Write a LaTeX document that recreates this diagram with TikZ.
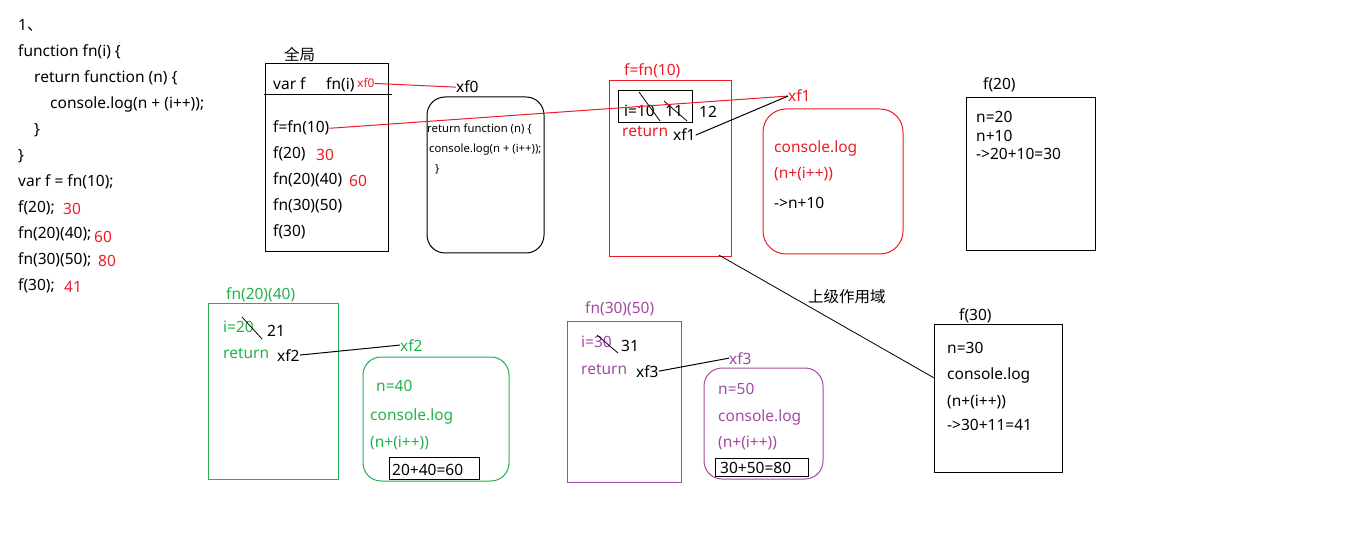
\documentclass[tikz,border=0pt]{standalone}
\usepackage{fontspec}
\usetikzlibrary{calc}
\setmainfont{Noto Sans}
\newfontfamily\cjkfont{Noto Sans CJK SC}
\definecolor{pred}{RGB}{237,28,36}
\definecolor{pgreen}{RGB}{34,177,76}
\definecolor{ppurple}{RGB}{163,73,164}
\newcommand{\mainsize}{\fontsize{15.5}{18}\selectfont}
\newcommand{\smallsize}{\fontsize{11.3}{13}\selectfont}
\newcommand{\tinysize}{\fontsize{12}{14}\selectfont}
\begin{document}
\begin{tikzpicture}[x=1pt,y=-1pt,
  txt/.style={anchor=base west,inner sep=0pt,font=\mainsize},
  stxt/.style={anchor=base west,inner sep=0pt,font=\smallsize},
  frame/.style={draw,line width=1pt,anchor=north west,inner sep=0pt,outer sep=0pt},
  rframe/.style={frame,rounded corners=18pt},
  wire/.style={line width=1pt},
  strike/.style={line width=0.8pt}]
\useasboundingbox (0,0) rectangle (1360,553);

% ---------- source code ----------
\node[txt] (c0) at (18,31) {1{\cjkfont 、}};
\node[txt] (c1) at (18,57) {function fn(i) \{};
\node[txt] (c2) at (34,83) {return function (n) \{};
\node[txt] (c3) at (50,109) {console.log(n + (i++));};
\node[txt] (c4) at (34,135) {\}};
\node[txt] (c5) at (18,161) {\}};
\node[txt] (c6) at (18,187) {var f = fn(10);};
\node[txt] (c7) at (18,213) {f(20);};
\node[txt,text=pred] (r7) at (63,215) {30};
\node[txt] (c8) at (18,239) {fn(20)(40);};
\node[txt,text=pred] (r8) at (94,243) {60};
\node[txt] (c9) at (18,265) {fn(30)(50);};
\node[txt,text=pred] (r9) at (98,267) {80};
\node[txt] (c10) at (18,291) {f(30);};
\node[txt,text=pred] (r10) at (64,293) {41};

% ---------- global scope ----------
\node[txt] (gtitle) at (284,61) {\cjkfont 全局};
\node[frame,minimum width=123pt,minimum height=188pt] (gbox) at (265,64) {};
\draw[wire] (264,95) -- (392,95);
\node[txt] (gvar) at (273,90) {var f};
\node[txt] (gfn) at (326,90) {fn(i)};
\node[anchor=base west,inner sep=0pt,font=\tinysize,text=pred] (gxf0) at (357,88) {xf0};
\node[txt] (gf) at (273,133) {f=fn(10)};
\node[txt] (gf20) at (273,159) {f(20)};
\node[txt,text=pred] (gr30) at (316,161) {30};
\node[txt] (gfn2040) at (273,185) {fn(20)(40)};
\node[txt,text=pred] (gr60) at (349,187) {60};
\node[txt] (gfn3050) at (273,211) {fn(30)(50)};
\node[txt] (gf30) at (273,237) {f(30)};

% ---------- function object xf0 ----------
\node[txt] (xf0) at (456,93) {xf0};
\node[rframe,minimum width=117pt,minimum height=156pt] (xf0box) at (427,97) {};
\node[stxt] (xf0a) at (427,133) {return function (n) \{};
\node[stxt] (xf0b) at (429,153) {console.log(n + (i++));};
\node[stxt] (xf0c) at (435,173) {\}};
\draw[wire,pred] (gxf0.east) -- (xf0.west);

% ---------- f=fn(10) ----------
\node[txt,text=pred] (ftitle) at (624,76) {f=fn(10)};
\node[frame,draw=pred,minimum width=122pt,minimum height=176pt] (fbox) at (609,81) {};
\node[frame,minimum width=74pt,minimum height=32pt] (ivar) at (618,91) {};
\node[txt] (i10) at (624,117) {i=10};
\node[txt] (i11) at (665,117) {11};
\node[txt] (i12) at (699,118) {12};
\draw[strike] (639,92) -- (660,121);
\draw[strike] (664,101) -- (687,121);
\node[txt,text=pred] (fret) at (622,137) {return};
\node[txt] (fxf1) at (673,141) {xf1};
\node[txt,text=pred] (xf1) at (788,102) {xf1};
\node[rframe,draw=pred,rounded corners=23pt,minimum width=140pt,minimum height=145pt] (xf1box) at (763,109) {};
\node[txt,text=pred] (xf1a) at (774,153) {console.log};
\node[txt,text=pred] (xf1b) at (774,179) {(n+(i++))};
\node[txt] (xf1c) at (774,209) {->n+10};
\draw[wire,pred] (gf.east) -- (xf1.west);
\draw[wire] (fxf1.east) -- (xf1.west);

% ---------- f(20) ----------
\node[txt] (f20title) at (983,90) {f(20)};
\node[frame,minimum width=129pt,minimum height=153pt] (f20box) at (966,98) {};
\node[txt] (f20a) at (976,123) {n=20};
\node[txt] (f20b) at (976,142) {n+10};
\node[txt] (f20c) at (976,160) {->20+10=30};

% ---------- f(30) ----------
\node[txt] (f30title) at (959,320) {f(30)};
\node[frame,minimum width=128pt,minimum height=147pt] (f30box) at (934,325) {};
\node[txt] (f30a) at (947,353) {n=30};
\node[txt] (f30b) at (947,379) {console.log};
\node[txt] (f30c) at (947,406) {(n+(i++))};
\node[txt] (f30d) at (947,430) {->30+11=41};
\node[txt] (upper) at (808,302) {\cjkfont 上级作用域};
\coordinate (scopeA) at ($(fbox.south west)!0.9!(fbox.south east)+(0,-2)$);
\coordinate (scopeB) at ($(f30box.north west)!0.36!(f30box.south west)$);
\draw[strike] (scopeA) -- (scopeB);

% ---------- fn(20)(40) ----------
\node[txt,text=pgreen] (gtitle2) at (226,300) {fn(20)(40)};
\node[frame,draw=pgreen,minimum width=130pt,minimum height=175pt] (g2box) at (208,304) {};
\node[txt,text=pgreen] (g2i) at (223,333) {i=20};
\draw[strike] (242,317) -- (262,339);
\node[txt] (g2i21) at (267,336) {21};
\node[txt,text=pgreen] (g2ret) at (223,358) {return};
\node[txt] (g2xf2) at (277,361) {xf2};
\node[txt,text=pgreen] (xf2) at (400,351) {xf2};
\node[rframe,draw=pgreen,minimum width=146pt,minimum height=124pt] (xf2box) at (363,357) {};
\node[txt,text=pgreen] (xf2a) at (376,391) {n=40};
\node[txt,text=pgreen] (xf2b) at (370,420) {console.log};
\node[txt,text=pgreen] (xf2c) at (370,447) {(n+(i++))};
\node[frame,minimum width=90pt,minimum height=22pt] (xf2res) at (389,457) {};
\node[txt] (xf2rest) at (392,475) {20+40=60};
\draw[wire] (g2xf2.east) -- (xf2.west);

% ---------- fn(30)(50) ----------
\node[txt,text=ppurple] (ptitle) at (585,314) {fn(30)(50)};
\node[frame,draw=ppurple,minimum width=114pt,minimum height=160pt] (pbox) at (567,322) {};
\node[txt,text=ppurple] (pi) at (581,348) {i=30};
\draw[strike] (597,335) -- (618,353);
\node[txt] (pi31) at (621,351) {31};
\node[txt,text=ppurple] (pret) at (581,374) {return};
\node[txt] (pxf3) at (636,377) {xf3};
\node[txt,text=ppurple] (xf3) at (729,364) {xf3};
\node[rframe,draw=ppurple,minimum width=119pt,minimum height=111pt] (xf3box) at (704,368) {};
\node[txt,text=ppurple] (xf3a) at (718,394) {n=50};
\node[txt,text=ppurple] (xf3b) at (718,421) {console.log};
\node[txt,text=ppurple] (xf3c) at (718,447) {(n+(i++))};
\node[frame,minimum width=93pt,minimum height=18pt] (xf3res) at (715,458) {};
\node[txt] (xf3rest) at (720,473) {30+50=80};
\draw[wire] (pxf3.east) -- (xf3.west);
\end{tikzpicture}
\end{document}
